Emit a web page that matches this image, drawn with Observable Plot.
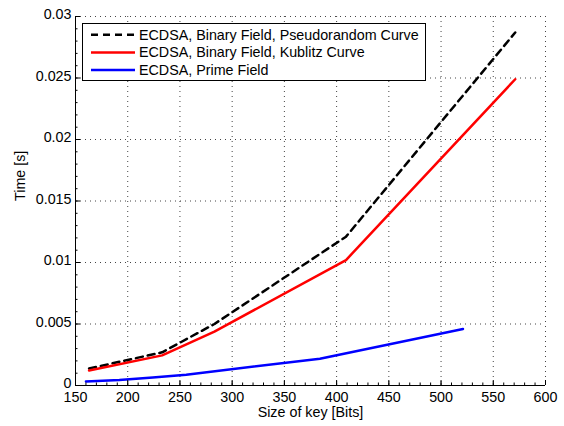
<!DOCTYPE html>
<html><head><meta charset="utf-8">
<script src="https://cdn.jsdelivr.net/npm/d3@7"></script>
<script src="https://cdn.jsdelivr.net/npm/@observablehq/plot@0.6"></script>
<style>body{margin:0;background:#fff}</style>
</head><body><div id="chart"></div>
<script>
const keyBinary = [163, 233, 283, 409, 571];
const pseudoTimes = [0.00138, 0.0027, 0.0050, 0.0121, 0.0287];
const koblitzTimes = [0.00122, 0.00245, 0.00438, 0.0102, 0.0249];
const keyPrime = [160, 192, 224, 256, 384, 521];
const primeTimes = [0.00033, 0.00045, 0.00066, 0.00088, 0.00218, 0.0046];
const seriesNames = ["ECDSA, Binary Field, Pseudorandom Curve", "ECDSA, Binary Field, Kublitz Curve", "ECDSA, Prime Field"];
const seriesColors = ["#000000", "#ff0000", "#0000ff"];
const seriesDash = ["7,5", null, null];
const xTicks = [150, 200, 250, 300, 350, 400, 450, 500, 550, 600];
const yTicks = [0, 0.005, 0.01, 0.015, 0.02, 0.025, 0.03];
const yTickLabels = ["0", "0.005", "0.01", "0.015", "0.02", "0.025", "0.03"];
const xMinor = d3.range(150, 601, 10);
const yMinor = d3.range(0, 0.03001, 0.001);

const rows = [
  ...keyBinary.map((k, i) => ({series: seriesNames[0], key: k, time: pseudoTimes[i]})),
  ...keyBinary.map((k, i) => ({series: seriesNames[1], key: k, time: koblitzTimes[i]})),
  ...keyPrime.map((k, i) => ({series: seriesNames[2], key: k, time: primeTimes[i]}))
];

const W = 564, H = 426, mL = 75, mR = 19, mT = 16, mB = 41;
const plotW = W - mL - mR, plotH = H - mT - mB;
const font = "'Liberation Sans', Arial, Helvetica, sans-serif";
const fs = "14.3px";

const lineMarks = seriesNames.map((s, i) => Plot.line(rows.filter(r => r.series === s), {
  x: "key", y: "time", stroke: seriesColors[i], strokeWidth: 2.5,
  strokeDasharray: seriesDash[i] || undefined, strokeLinejoin: "round"
}));

const plot = Plot.plot({
  width: W, height: H,
  marginLeft: mL, marginRight: mR, marginTop: mT, marginBottom: mB,
  x: {domain: [150, 600]},
  y: {domain: [0, 0.03]},
  style: {fontFamily: font, fontSize: fs, color: "#000", background: "#fff"},
  marks: [
    Plot.ruleX(xTicks, {stroke: "#444", strokeDasharray: "1,4"}),
    Plot.ruleY(yTicks, {stroke: "#444", strokeDasharray: "1,4"}),
    ...lineMarks,
    Plot.ruleX([150], {stroke: "#000"}),
    Plot.ruleY([0], {stroke: "#000"}),
    Plot.ruleX(xTicks, {stroke: "#000", insetTop: plotH - 5}),
    Plot.ruleX(xMinor, {stroke: "#000", insetTop: plotH - 2.5}),
    Plot.ruleY(yTicks, {stroke: "#000", insetRight: plotW - 5}),
    Plot.ruleY(yMinor, {stroke: "#000", insetRight: plotW - 2.5}),
    Plot.axisX({ticks: xTicks, tickSize: 0, tickPadding: 6, label: null, fontSize: fs}),
    Plot.axisY({ticks: yTicks, tickSize: 0, tickPadding: 4, label: null, fontSize: fs, dy: -2,
      tickFormat: d => yTickLabels[yTicks.indexOf(d)]}),
    Plot.text(["Size of key [Bits]"], {frameAnchor: "bottom", dy: 31, fill: "#000", fontSize: fs}),
    Plot.text(["Time [s]"], {frameAnchor: "left", dx: -55, rotate: -90, fill: "#000", fontSize: fs})
  ]
});

const svg = d3.select(plot);
const lg = svg.append("g").attr("font-family", font).attr("font-size", fs).attr("text-anchor", "start");
lg.append("rect").attr("x", 82.5).attr("y", 23.5).attr("width", 343).attr("height", 57)
  .attr("fill", "#fff").attr("stroke", "#000").attr("stroke-width", 1);
seriesNames.forEach((s, i) => {
  const y = 34.7 + i * 17.7;
  lg.append("line").attr("x1", 91).attr("x2", 135).attr("y1", y).attr("y2", y)
    .attr("stroke", seriesColors[i]).attr("stroke-width", 2.5)
    .attr("stroke-dasharray", seriesDash[i]);
  lg.append("text").attr("x", 139).attr("y", y).attr("dy", "0.35em").attr("fill", "#000")
    .attr("text-anchor", "start").text(s);
});

document.getElementById("chart").appendChild(plot);
</script>
</body></html>
